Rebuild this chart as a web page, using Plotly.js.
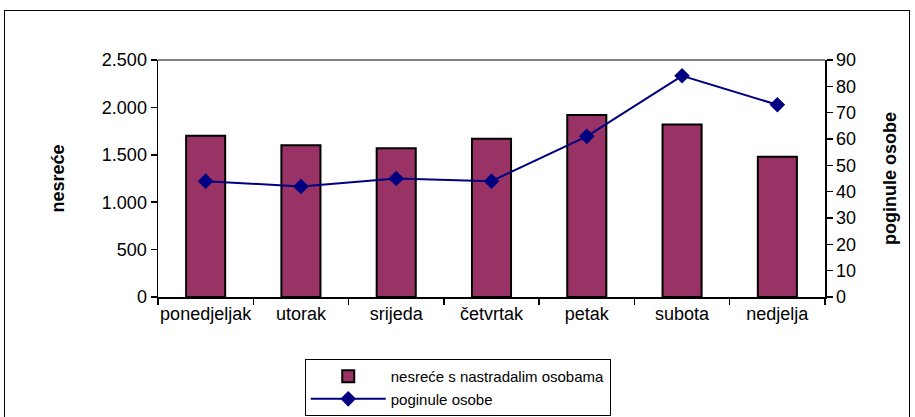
<!DOCTYPE html>
<html><head><meta charset="utf-8">
<script src="https://cdn.plot.ly/plotly-3.0.1.min.js"></script>
<style>
body{margin:0;padding:0;background:#fff;}
#wrap{position:relative;width:915px;height:417px;overflow:hidden;}
#frame{position:absolute;left:4px;top:10px;width:906px;height:420px;border:1.5px solid #000;pointer-events:none;box-sizing:border-box;}
#chart{position:absolute;left:0;top:0;width:915px;height:417px;}
</style></head>
<body><div id="wrap"><div id="chart"></div><div id="frame"></div></div>
<script>
const days = ["ponedjeljak","utorak","srijeda","četvrtak","petak","subota","nedjelja"];
const nesrece = [1700, 1600, 1570, 1670, 1920, 1820, 1480];
const poginule = [44, 42, 45, 44, 61, 84, 73];
const leftTicks = [0, 500, 1000, 1500, 2000, 2500];
const rightTicks = [0,10,20,30,40,50,60,70,80,90];

const fam = "Liberation Sans, Arial, sans-serif";
const data = [
  {type:"bar", x:days, y:nesrece, name:"nesreće s nastradalim osobama",
   marker:{color:"#993366", line:{color:"#000", width:2}}, width:0.41, yaxis:"y"},
  {type:"scatter", mode:"lines+markers", x:days, y:poginule, name:"poginule osobe",
   line:{color:"#000080", width:2}, marker:{symbol:"diamond", size:12, color:"#000080"}, yaxis:"y2"}
];
const layout = {
  width:915, height:417,
  margin:{l:158, r:90, t:60, b:120, autoexpand:false},
  paper_bgcolor:"rgba(0,0,0,0)", plot_bgcolor:"#fff",
  separators:",.",
  font:{family:fam, size:18, color:"#000"},
  showlegend:true,
  legend:{x:0.22, y:-0.262, xanchor:"left", yanchor:"top", bordercolor:"#000", borderwidth:1,
          bgcolor:"#fff", font:{family:fam, size:15, color:"#000"}, tracegroupgap:0,
          itemwidth:75, indentation:0},
  xaxis:{type:"category", tickson:"boundaries", ticks:"outside", ticklen:6, tickcolor:"#000", tickwidth:1.5,
         tickangle:0,
         showline:true, linecolor:"#000", linewidth:1.5, showgrid:false, zeroline:false,
         tickfont:{family:fam, size:18, color:"#000"}},
  yaxis:{range:[0,2500], tickvals:leftTicks, separatethousands:true, tickformat:",d",
         ticks:"outside", ticklen:6, tickcolor:"#000", tickwidth:1.5, showline:true, linecolor:"#000", linewidth:1.5,
         showgrid:false, zeroline:false,
         tickfont:{family:fam, size:18, color:"#000"},
         title:{text:"<b>nesreće</b>", font:{family:fam, size:18, color:"#000"}, standoff:32}},
  yaxis2:{range:[0,90], tickvals:rightTicks, overlaying:"y", side:"right",
         ticks:"outside", ticklen:6, tickcolor:"#000", tickwidth:1.5, showline:true, linecolor:"#000", linewidth:1.5,
         showgrid:false, zeroline:false,
         tickfont:{family:fam, size:18, color:"#000"},
         title:{text:"<b>poginule osobe</b>", font:{family:fam, size:18, color:"#000"}, standoff:28}},
  shapes:[{type:"line", xref:"paper", yref:"paper", x0:0, x1:1, y0:1, y1:1, line:{color:"#808080", width:2}}]
};
Plotly.newPlot("chart", data, layout, {displayModeBar:false, staticPlot:true});
</script></body></html>
